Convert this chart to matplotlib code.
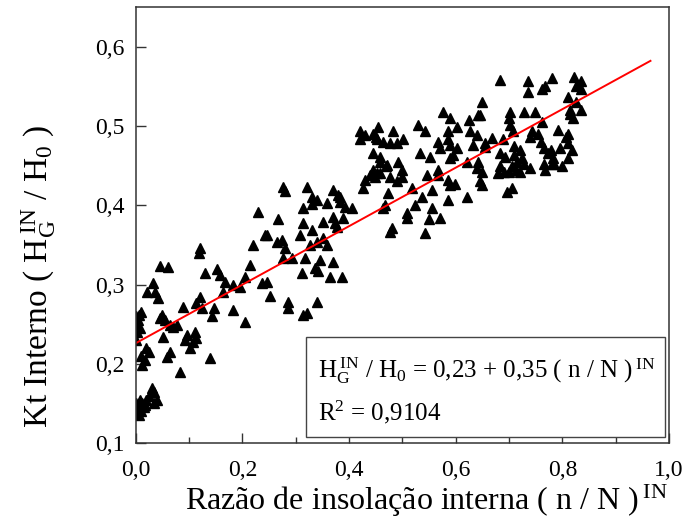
"""Kt interno vs razão de insolação interna, scatter + linear fit."""
import numpy as np, matplotlib; matplotlib.use('Agg')
import matplotlib.pyplot as plt
from matplotlib.patches import Rectangle

plt.rcParams['font.family'] = ['Liberation Serif', 'DejaVu Serif']
plt.rcParams['mathtext.fontset'] = 'custom'
plt.rcParams['mathtext.rm'] = 'Liberation Serif'
plt.rcParams['mathtext.it'] = 'Liberation Serif:italic'

x_low = [0.0, 0.0, 0.003, 0.005, 0.008, 0.0, 0.01, 0.006, 0.0, 0.002, 0.005, 0.008, 0.01, 0.012,
         0.015, 0.02, 0.025, 0.03, 0.035, 0.04, 0.035, 0.018, 0.006, 0.017, 0.02, 0.01, 0.025,
         0.012, 0.021, 0.036, 0.033, 0.042, 0.046]
y_low = [0.26, 0.25, 0.24, 0.255, 0.245, 0.23, 0.265, 0.262, 0.15, 0.14, 0.145, 0.155, 0.14, 0.15,
         0.145, 0.155, 0.16, 0.17, 0.165, 0.155, 0.15, 0.148, 0.135, 0.205, 0.22, 0.21, 0.215,
         0.198, 0.29, 0.29, 0.302, 0.283, 0.323]
x_b = [0.06, 0.119, 0.046, 0.055, 0.052, 0.05, 0.064, 0.077, 0.089, 0.096, 0.111, 0.114, 0.102,
       0.064, 0.058, 0.083, 0.139, 0.114, 0.12, 0.124, 0.13, 0.152, 0.158, 0.168, 0.146, 0.143,
       0.164, 0.183, 0.183, 0.195, 0.12, 0.07, 0.093, 0.107]
y_b = [0.322, 0.34, 0.258, 0.255, 0.234, 0.262, 0.249, 0.249, 0.272, 0.236, 0.24, 0.233, 0.22,
       0.215, 0.209, 0.19, 0.207, 0.277, 0.284, 0.27, 0.315, 0.32, 0.312, 0.303, 0.27, 0.26,
       0.29, 0.268, 0.3, 0.297, 0.346, 0.246, 0.23, 0.228]
x_c = [0.205, 0.214, 0.205, 0.277, 0.321, 0.331, 0.34, 0.314, 0.358, 0.37, 0.38, 0.383, 0.392,
       0.405, 0.23, 0.267, 0.246, 0.22, 0.264, 0.274, 0.28, 0.277, 0.293, 0.314, 0.308, 0.331,
       0.352, 0.374, 0.389, 0.378, 0.327, 0.34, 0.352, 0.358, 0.317, 0.346, 0.37, 0.336, 0.341,
       0.312, 0.364, 0.386, 0.237, 0.252, 0.286, 0.286, 0.34, 0.321, 0.243, 0.246, 0.314, 0.28,
       0.331, 0.383, 0.37]
y_c = [0.31, 0.325, 0.253, 0.423, 0.423, 0.41, 0.407, 0.397, 0.403, 0.419, 0.413, 0.404, 0.398,
       0.397, 0.392, 0.382, 0.363, 0.35, 0.354, 0.356, 0.346, 0.334, 0.334, 0.378, 0.363, 0.369,
       0.379, 0.378, 0.384, 0.373, 0.35, 0.354, 0.359, 0.35, 0.334, 0.331, 0.329, 0.321, 0.317,
       0.315, 0.31, 0.31, 0.302, 0.286, 0.278, 0.27, 0.278, 0.264, 0.363, 0.303, 0.262, 0.418,
       0.402, 0.41, 0.385]
x_d = [0.53, 0.542, 0.483, 0.464, 0.477, 0.49, 0.502, 0.445, 0.458, 0.458, 0.445, 0.448, 0.458,
       0.47, 0.492, 0.5, 0.5, 0.49, 0.477, 0.518, 0.473, 0.467, 0.464, 0.508, 0.508, 0.48, 0.476,
       0.524, 0.536, 0.555, 0.555, 0.549, 0.57, 0.542, 0.533, 0.552, 0.546, 0.567, 0.567, 0.585,
       0.598, 0.589, 0.585, 0.621, 0.646, 0.64, 0.641, 0.621, 0.567, 0.57, 0.585, 0.59, 0.595,
       0.589, 0.602, 0.585, 0.603, 0.589, 0.577, 0.624, 0.627, 0.64, 0.642, 0.632, 0.655, 0.42,
       0.42, 0.43, 0.445, 0.455, 0.453, 0.45, 0.427, 0.43, 0.439, 0.452, 0.471]
y_d = [0.501, 0.493, 0.493, 0.48, 0.479, 0.479, 0.483, 0.466, 0.461, 0.454, 0.445, 0.436, 0.44,
       0.449, 0.454, 0.445, 0.436, 0.43, 0.435, 0.422, 0.416, 0.4, 0.397, 0.39, 0.384, 0.371,
       0.366, 0.4, 0.41, 0.419, 0.397, 0.382, 0.384, 0.365, 0.466, 0.461, 0.438, 0.445, 0.438,
       0.432, 0.427, 0.425, 0.407, 0.41, 0.43, 0.447, 0.454, 0.455, 0.48, 0.472, 0.483, 0.476,
       0.463, 0.46, 0.472, 0.493, 0.499, 0.51, 0.518, 0.508, 0.493, 0.489, 0.514, 0.476, 0.479,
       0.493, 0.484, 0.488, 0.49, 0.498, 0.484, 0.486, 0.422, 0.432, 0.438, 0.441, 0.451]
x_e = [0.683, 0.736, 0.736, 0.762, 0.768, 0.781, 0.821, 0.834, 0.834, 0.826, 0.81, 0.825, 0.834,
       0.815, 0.82, 0.649, 0.646, 0.702, 0.7, 0.702, 0.727, 0.749, 0.762, 0.708, 0.743, 0.792,
       0.81, 0.806, 0.81, 0.818, 0.814, 0.668, 0.655, 0.689, 0.71, 0.72, 0.71, 0.725, 0.715,
       0.705, 0.728, 0.683, 0.693, 0.739, 0.755, 0.76, 0.765, 0.772, 0.778, 0.782, 0.78, 0.785,
       0.765, 0.768, 0.8, 0.739, 0.683, 0.68, 0.69, 0.7, 0.712, 0.72, 0.649, 0.649, 0.696,
       0.706, 0.81, 0.795]
y_e = [0.558, 0.556, 0.543, 0.546, 0.55, 0.561, 0.562, 0.556, 0.546, 0.55, 0.537, 0.53, 0.52,
       0.515, 0.51, 0.53, 0.514, 0.517, 0.51, 0.501, 0.517, 0.517, 0.505, 0.493, 0.493, 0.495,
       0.49, 0.486, 0.479, 0.47, 0.52, 0.485, 0.474, 0.483, 0.475, 0.47, 0.463, 0.46, 0.455,
       0.45, 0.452, 0.466, 0.461, 0.486, 0.49, 0.48, 0.472, 0.466, 0.47, 0.46, 0.452, 0.452,
       0.452, 0.445, 0.449, 0.447, 0.449, 0.44, 0.442, 0.442, 0.445, 0.442, 0.442, 0.426, 0.417,
       0.422, 0.46, 0.472]

# fitted line as drawn
fit_x = [0.0, 0.965]
fit_y = [0.226, 0.582]

xs = x_low + x_b + x_c + x_d + x_e
ys = y_low + y_b + y_c + y_d + y_e

fig = plt.figure(figsize=(6.87, 5.32), dpi=100)
ax = fig.add_axes([0.1975, 0.167, 0.7765, 0.82])
ax.plot(xs, ys, ls='none', marker='^', ms=7.5, color='black', mec='black')
ax.plot(fit_x, fit_y, color='red', lw=1.4)
ax.set_xlim(0, 1.0); ax.set_ylim(0.1, 0.65)

xt = [0.0, 0.2, 0.4, 0.6, 0.8, 1.0]
yt = [0.1, 0.2, 0.3, 0.4, 0.5, 0.6]
ax.set_xticks(xt); ax.set_xticklabels(['0,0', '0,2', '0,4', '0,6', '0,8', '1,0'])
ax.set_xticks([0.1, 0.3, 0.5, 0.7, 0.9], minor=True)
ax.set_yticks(yt); ax.set_yticklabels(['0,1', '0,2', '0,3', '0,4', '0,5', '0,6'])
ax.tick_params(which='both', direction='in', labelsize=17, width=1, color='#333333')
ax.tick_params(which='major', length=7)
ax.tick_params(axis='x', which='major', pad=12)
ax.tick_params(axis='y', which='major', pad=8)
ax.tick_params(which='minor', length=4)
for s in ax.spines.values():
    s.set_linewidth(1.1); s.set_color('#333333')

ax.set_xlabel(r'Razão de insolação interna ( n / N )$^{\;\mathrm{IN}}$', fontsize=23)
ax.xaxis.set_label_coords(0.545, -0.09)
ax.set_ylabel(r'Kt Interno ( H$_{\mathrm{G}}^{\;\mathrm{IN}}$ / H$_0$ )', fontsize=24)
ax.yaxis.set_label_coords(-0.145, 0.383)

# equation box
ax.add_patch(Rectangle((0.319, 0.014), 0.6735, 0.229, transform=ax.transAxes,
                       fc='white', ec='#444444', lw=1, zorder=3))
ax.text(0.342, 0.149, r'H$_{\mathrm{G}}^{\;\mathrm{IN}}$ / H$_0$ = 0,23 + 0,35 ( n / N )$^{\;\mathrm{IN}}$',
        transform=ax.transAxes, fontsize=18, va='baseline', ha='left', zorder=4)
ax.text(0.342, 0.053, r'R$^2$ = 0,9104', transform=ax.transAxes, fontsize=18,
        va='baseline', ha='left', zorder=4)

fig.savefig('out.png', dpi=100)
